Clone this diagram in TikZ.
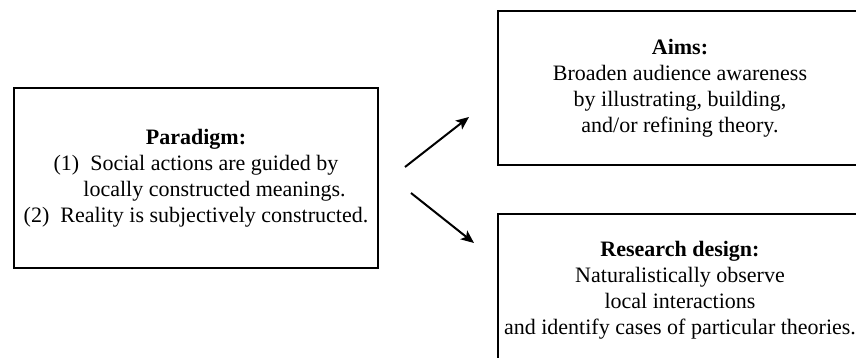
\documentclass[tikz,border=0pt]{standalone}
\usepackage{fontspec}
\setmainfont{Liberation Serif}
\usetikzlibrary{arrows.meta}
\begin{document}
\begin{tikzpicture}[x=1pt,y=-1pt,
  box/.style={draw=black, line width=2pt, rectangle, align=center, inner sep=0pt,
    font=\fontsize{22}{26}\selectfont, minimum width=364pt},
  conn/.style={line width=2pt, -{Stealth[length=13pt,width=11pt,inset=3pt]}}]
\useasboundingbox (0,0) rectangle (856,357);
\clip (0,0) rectangle (856,357);
\fill[white] (0,0) rectangle (856,357);
\node[box, minimum height=180pt] (paradigm) at (196,178)
  {\textbf{Paradigm:}\\
   (1)~ Social actions are guided by\\
   \hspace*{37pt}locally constructed meanings.\\
   (2)~ Reality is subjectively constructed.};
\node[box, minimum height=154pt] (aims) at (680,88)
  {\textbf{Aims:}\\
   Broaden audience awareness\\
   by illustrating, building,\\
   and/or refining theory.};
\node[box, minimum height=152pt] (design) at (680,290)
  {\textbf{Research design:}\\
   Naturalistically observe\\
   local interactions\\
   and identify cases of particular theories.};
\coordinate (up1) at (405,167);
\coordinate (up2) at (469,117);
\coordinate (dn1) at (411,193);
\coordinate (dn2) at (474,243);
\draw[conn] (up1) -- (up2);
\draw[conn] (dn1) -- (dn2);
\end{tikzpicture}
\end{document}
